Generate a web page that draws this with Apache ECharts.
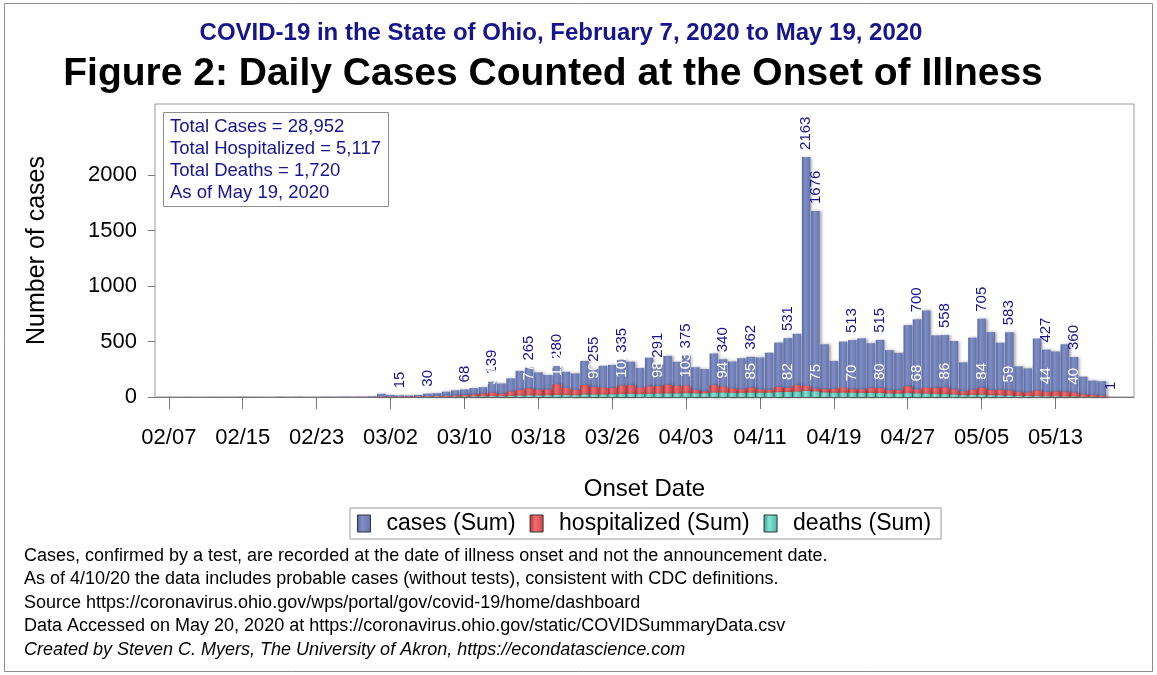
<!DOCTYPE html>
<html>
<head>
<meta charset="utf-8">
<script src="https://cdn.jsdelivr.net/npm/echarts@6/dist/echarts.min.js"></script>
<style>
  html, body { margin: 0; padding: 0; background: #fff; }
  #chart { width: 1157px; height: 675px; }
</style>
</head>
<body>
<div id="chart"></div>
<script>
// daily counts by onset date, 02/07/2020 .. 05/19/2020 (103 days)
const cases = [
  1, 0, 1, 0, 1, 2, 1, 1, 2, 1, 1, 0, 2, 1, 2, 1, 1, 2, 2, 3, 2, 3,
  6, 28, 18, 15, 14, 18, 30, 35, 48, 60, 68, 80,
  88, 139, 122, 168, 236, 265, 222, 198, 280, 228, 212,
  325, 255, 282, 290, 335, 318, 262, 355, 291, 370, 318, 375,
  268, 252, 392, 340, 320, 350, 362, 356, 400, 490, 531, 570,
  2163, 1676,
  475, 326, 500, 513, 528, 485, 515, 422, 398,
  648, 700, 780, 555, 558, 505, 312, 535, 705, 585, 490, 583,
  276, 258, 527, 427, 410, 475, 360, 184, 148, 142, 1
];
const hospitalized = [
  0, 0, 0, 0, 0, 0, 0, 0, 1, 0, 0, 0, 1, 0, 1, 0, 0, 1, 0, 1, 1, 1,
  1, 4, 3, 3, 3, 5, 6, 8, 10, 14, 18, 22,
  30, 38, 28, 48, 64, 77, 66, 66, 115, 82, 64,
  108, 90, 85, 80, 102, 106, 85, 95, 98, 110, 100, 103,
  64, 50, 106, 94, 76, 68, 85, 68, 65, 90, 82, 106,
  100, 75,
  70, 73, 85, 70, 68, 80, 80, 62, 62,
  95, 68, 85, 82, 86, 68, 50, 65, 84, 62, 65, 59,
  44, 41, 58, 44, 48, 48, 40, 24, 18, 14, 0
];
const deaths = [
  0, 0, 0, 0, 0, 0, 0, 0, 0, 0, 0, 0, 0, 0, 0, 0, 0, 0, 0, 0, 0, 0,
  0, 0, 0, 1, 0, 1, 1, 2, 2, 3, 4, 5,
  6, 8, 7, 10, 12, 14, 14, 15, 18, 17, 16,
  22, 22, 22, 24, 26, 28, 26, 28, 30, 32, 32, 34,
  33, 33, 39, 39, 37, 37, 39, 38, 39, 43, 45, 48,
  55, 50,
  41, 38, 39, 38, 37, 36, 35, 31, 30,
  34, 32, 30, 26, 25, 22, 16, 18, 20, 16, 14, 12,
  9, 8, 8, 6, 6, 5, 4, 2, 2, 1, 0
];

// days that carry a value label (the peak day gets only its case label)
const labelDates = [
  '03/03', '03/06', '03/10', '03/13', '03/17', '03/20', '03/24', '03/27',
  '03/31', '04/03', '04/07', '04/10', '04/14', '04/17', '04/21',
  '04/24', '04/28', '05/01', '05/05', '05/08', '05/12', '05/15', '05/19'
];
const peakDate = '04/16';
const xTickLabels = ['02/07', '02/15', '02/23', '03/02', '03/10', '03/18', '03/26',
  '04/03', '04/11', '04/19', '04/27', '05/05', '05/13'];
const yTicks = [0, 500, 1000, 1500, 2000];

const infoLines = [
  'Total Cases = 28,952',
  'Total Hospitalized = 5,117',
  'Total Deaths = 1,720',
  'As of May 19, 2020'
];
const notes = [
  'Cases, confirmed by a test, are recorded at the date of illness onset and not the announcement date.',
  'As of 4/10/20 the data includes probable cases (without tests), consistent with CDC definitions.',
  'Source https://coronavirus.ohio.gov/wps/portal/gov/covid-19/home/dashboard',
  'Data Accessed on May 20, 2020 at https://coronavirus.ohio.gov/static/COVIDSummaryData.csv',
  'Created by Steven C. Myers, The University of Akron, https://econdatascience.com'
];

// axis runs one day before the first onset to two days after the last
const days = [];
for (let i = 0; i < cases.length + 3; i++) {
  const d = new Date(Date.UTC(2020, 1, 6 + i));
  days.push(String(d.getUTCMonth() + 1).padStart(2, '0') + '/' + String(d.getUTCDate()).padStart(2, '0'));
}
const pad = (arr) => [null, ...arr, null, null];

const FONT = "'Liberation Sans', Arial, sans-serif";
const NAVY = '#15158f';

const grad = (a, b, c) => new echarts.graphic.LinearGradient(0, 0, 1, 0, [
  { offset: 0, color: a }, { offset: 0.4, color: b }, { offset: 1, color: c }
]);

const barShadow = {
  shadowColor: 'rgba(0,0,0,0.35)',
  shadowBlur: 3,
  shadowOffsetX: 2,
  shadowOffsetY: 0
};

const chart = echarts.init(document.getElementById('chart'));

const graphics = [
  {
    type: 'rect', silent: true, z: 0,
    shape: { x: 4.5, y: 3.5, width: 1148, height: 668 },
    style: { fill: 'none', stroke: '#8c8c8c', lineWidth: 1 }
  },
  {
    type: 'text', x: 561, y: 33,
    style: { text: 'COVID-19 in the State of Ohio, February 7, 2020 to May 19, 2020',
      fill: NAVY, font: 'bold 24px ' + FONT, textAlign: 'center', textVerticalAlign: 'middle' }
  },
  {
    type: 'text', x: 553, y: 74,
    style: { text: 'Figure 2: Daily Cases Counted at the Onset of Illness',
      fill: '#000', font: 'bold 39px ' + FONT, textAlign: 'center', textVerticalAlign: 'middle' }
  },
  {
    type: 'rect', z: 50,
    shape: { x: 163.5, y: 112.5, width: 225, height: 94 },
    style: { fill: '#fff', stroke: '#8c8c8c', lineWidth: 1 }
  }
];
infoLines.forEach((t, i) => {
  graphics.push({
    type: 'text', z: 51, x: 170, y: 127 + i * 22,
    style: { text: t, fill: NAVY, font: '18.5px ' + FONT, textVerticalAlign: 'middle' }
  });
});
notes.forEach((t, i) => {
  graphics.push({
    type: 'text', x: 24, y: 556 + i * 23.5,
    style: { text: t, fill: '#000', textVerticalAlign: 'middle',
      font: (i === notes.length - 1 ? 'italic ' : '') + '18px ' + FONT }
  });
});

const caseLabel = {
  show: true,
  position: 'top',
  rotate: 90,
  align: 'left',
  verticalAlign: 'middle',
  distance: 7,
  color: NAVY,
  fontSize: 15,
  fontFamily: FONT,
  formatter: (p) => (labelDates.includes(p.name) || p.name === peakDate) ? String(p.value) : ''
};
const hospLabel = {
  show: true,
  position: 'top',
  rotate: 90,
  align: 'left',
  verticalAlign: 'middle',
  distance: 8,
  color: '#fff',
  fontSize: 15,
  fontFamily: FONT,
  formatter: (p) => {
    const c = cases[p.dataIndex - 1];
    return labelDates.includes(p.name) && p.value > 0 && c >= 100 ? String(p.value) : '';
  }
};

chart.setOption({
  animation: false,
  textStyle: { fontFamily: FONT },
  graphic: graphics,
  grid: {
    left: 155, top: 104, right: 23, bottom: 278,
    show: true, borderColor: '#9a9a9a', borderWidth: 1
  },
  legend: {
    left: 350, top: 508,
    padding: [4, 10, 4, 7],
    borderColor: '#9a9a9a', borderWidth: 1,
    icon: 'rect',
    itemWidth: 13, itemHeight: 17, itemGap: 14,
    textStyle: { fontSize: 23, color: '#000', padding: [0, 0, 0, 11] },
    itemStyle: { borderColor: '#333', borderWidth: 1 },
    data: ['cases (Sum)', 'hospitalized (Sum)', 'deaths (Sum)']
  },
  xAxis: {
    type: 'category',
    data: days,
    boundaryGap: true,
    name: 'Onset Date',
    nameLocation: 'middle',
    nameGap: 80,
    nameTextStyle: { fontSize: 24, color: '#000' },
    axisLine: { show: true, lineStyle: { color: '#777' } },
    axisTick: {
      show: true, alignWithLabel: true, length: 12,
      interval: (i, v) => xTickLabels.includes(v),
      lineStyle: { color: '#777' }
    },
    axisLabel: {
      interval: (i, v) => xTickLabels.includes(v),
      margin: 30, fontSize: 22, color: '#000'
    }
  },
  yAxis: {
    type: 'value',
    min: 0, max: 2640,
    name: 'Number of cases',
    nameLocation: 'middle',
    nameRotate: 90,
    nameGap: 105,
    nameTextStyle: { fontSize: 25, color: '#000' },
    splitLine: { show: false },
    axisLine: { show: false },
    axisTick: { show: true, length: 7, customValues: yTicks, lineStyle: { color: '#777' } },
    axisLabel: { customValues: yTicks, margin: 18, fontSize: 22, color: '#000',
      formatter: (v) => String(v) }
  },
  series: [
    {
      name: 'cases (Sum)', type: 'bar', data: pad(cases),
      barCategoryGap: '8%', barGap: '-100%',
      itemStyle: Object.assign({ color: grad('#5a69a3', '#7f8fc6', '#6574ae') }, barShadow),
      label: caseLabel, z: 2
    },
    {
      name: 'hospitalized (Sum)', type: 'bar', data: pad(hospitalized),
      barCategoryGap: '8%', barGap: '-100%',
      itemStyle: Object.assign({ color: grad('#b52d33', '#f26e6e', '#cf434a') }, barShadow),
      label: hospLabel, z: 3
    },
    {
      name: 'deaths (Sum)', type: 'bar', data: pad(deaths),
      barCategoryGap: '8%', barGap: '-100%',
      itemStyle: Object.assign({ color: grad('#33a090', '#86e3d6', '#49b8a8') }, barShadow),
      z: 4
    }
  ]
});
</script>
</body>
</html>
